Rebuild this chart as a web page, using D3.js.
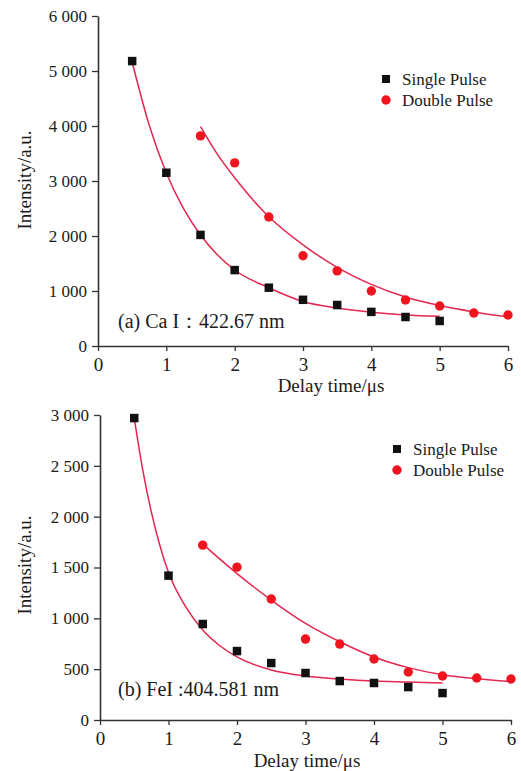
<!DOCTYPE html>
<html>
<head>
<meta charset="utf-8">
<script src="https://cdn.jsdelivr.net/npm/d3@7"></script>
<style>
  html, body { margin: 0; padding: 0; background: #ffffff; }
  svg { display: block; }
  svg text { font-family: "Liberation Serif", "Times New Roman", "DejaVu Serif", serif !important; }
</style>
</head>
<body>
<svg id="chart" width="521" height="771"></svg>
<script>
// ---------- data ----------
const xTicks = [0, 1, 2, 3, 4, 5, 6];
const xTickLabels = ["0", "1", "2", "3", "4", "5", "6"];

const yTicksA = [0, 1000, 2000, 3000, 4000, 5000, 6000];
const yTickLabelsA = ["0", "1 000", "2 000", "3 000", "4 000", "5 000", "6 000"];
const yTicksB = [0, 500, 1000, 1500, 2000, 2500, 3000];
const yTickLabelsB = ["0", "500", "1 000", "1 500", "2 000", "2 500", "3 000"];

const seriesNames = ["Single Pulse", "Double Pulse"];

const singleX = [0.5, 1, 1.5, 2, 2.5, 3, 3.5, 4, 4.5, 5];
const doubleX = [1.5, 2, 2.5, 3, 3.5, 4, 4.5, 5, 5.5, 6];

// (a) Ca I
const singleA = [5180, 3150, 2020, 1380, 1060, 840, 745, 620, 527, 455];
const doubleA = [3820, 3330, 2345, 1640, 1365, 1000, 836, 727, 600, 564];
const fitSingleAX = [0.5, 0.75, 1, 1.25, 1.5, 1.75, 2, 2.5, 3, 3.5, 4, 4.5, 5];
const fitSingleAY = [5164, 4012, 3145, 2502, 2018, 1654, 1382, 1060, 810, 690, 615, 565, 540];
const fitDoubleAX = [1.5, 1.75, 2, 2.5, 3, 3.5, 4, 4.5, 5, 5.5, 6];
const fitDoubleAY = [3987, 3480, 3060, 2351, 1840, 1430, 1120, 890, 735, 620, 530];

// (b) Fe I
const singleB = [2970, 1420, 944, 678, 560, 462, 383, 364, 324, 265];
const doubleB = [1720, 1504, 1190, 796, 747, 600, 472, 433, 413, 403];
const fitSingleBX = [0.5, 0.625, 0.75, 0.875, 1, 1.25, 1.5, 1.75, 2, 2.5, 3, 3.5, 4, 4.5, 5];
const fitSingleBY = [2970, 2455, 2045, 1714, 1450, 1115, 885, 730, 620, 492, 433, 403, 383, 374, 364];
const fitDoubleBX = [1.5, 2, 2.5, 3, 3.5, 4, 4.5, 5, 5.5, 6];
const fitDoubleBY = [1730, 1440, 1180, 950, 770, 620, 515, 445, 405, 378];

const panelLabels = ["(a) Ca I：422.67 nm", "(b) FeI :404.581 nm"];
const xTitle = "Delay time/μs";
const yTitle = "Intensity/a.u.";

// ---------- styles ----------
const axisColor = "#333333";
const textColor = "#1a1a1a";
const fitColor = "#e5264f";
const redColor = "#f0141e";
const blackColor = "#111111";

const svg = d3.select("#chart");

function zip(xs, ys) { return xs.map((x, i) => [x, ys[i]]); }

function drawPanel(cfg) {
  const x = d3.scaleLinear().domain([0, 6]).range(cfg.xRange);
  const y = d3.scaleLinear().domain(cfg.yDomain).range(cfg.yRange);
  const g = svg.append("g");

  // x axis
  const xAxis = d3.axisBottom(x)
    .tickValues(xTicks)
    .tickFormat((d, i) => xTickLabels[i])
    .tickSize(5)
    .tickSizeOuter(0);
  const gx = g.append("g")
    .attr("transform", `translate(0,${cfg.yRange[0]})`)
    .call(xAxis)
    .attr("font-family", null);
  gx.select(".domain").attr("stroke", axisColor).attr("stroke-width", 1.6);
  gx.selectAll(".tick line").attr("stroke", axisColor).attr("stroke-width", 1.3);
  gx.selectAll(".tick text")
    .attr("fill", textColor)
    .attr("font-size", 19)
    .attr("dy", null)
    .attr("y", cfg.xLabelBaseline);

  // y axis
  const yAxis = d3.axisLeft(y)
    .tickValues(cfg.yTicks)
    .tickFormat((d, i) => cfg.yTickLabels[i])
    .tickSize(6)
    .tickPadding(5)
    .tickSizeOuter(0);
  const gy = g.append("g")
    .attr("transform", `translate(${cfg.xRange[0]},0)`)
    .call(yAxis)
    .attr("font-family", null);
  gy.select(".domain").attr("stroke", axisColor).attr("stroke-width", 1.6);
  gy.selectAll(".tick line").attr("stroke", axisColor).attr("stroke-width", 1.3);
  gy.selectAll(".tick text")
    .attr("fill", textColor)
    .attr("font-size", 17);

  // fit lines
  const line = d3.line().x(d => x(d[0])).y(d => y(d[1])).curve(d3.curveMonotoneX);
  g.append("path").datum(zip(cfg.fitSX, cfg.fitSY))
    .attr("d", line).attr("fill", "none").attr("stroke", fitColor).attr("stroke-width", 1.5);
  g.append("path").datum(zip(cfg.fitDX, cfg.fitDY))
    .attr("d", line).attr("fill", "none").attr("stroke", fitColor).attr("stroke-width", 1.5);

  // points
  const sq = 8.5;
  g.selectAll("rect.single").data(zip(singleX, cfg.single)).join("rect")
    .attr("class", "single")
    .attr("x", d => x(d[0]) - sq / 2).attr("y", d => y(d[1]) - sq / 2)
    .attr("width", sq).attr("height", sq).attr("fill", blackColor);
  g.selectAll("circle.double").data(zip(doubleX, cfg.double)).join("circle")
    .attr("class", "double")
    .attr("cx", d => x(d[0])).attr("cy", d => y(d[1]))
    .attr("r", 4.7).attr("fill", redColor);

  // legend
  const lg = g.append("g").attr("transform", `translate(${cfg.legend[0]},${cfg.legend[1]})`);
  lg.append("rect").attr("x", -4).attr("y", -4).attr("width", 8).attr("height", 8).attr("fill", blackColor);
  lg.append("circle").attr("cx", 0).attr("cy", 21).attr("r", 4.7).attr("fill", redColor);
  lg.selectAll("text").data(seriesNames).join("text")
    .attr("x", 16).attr("y", (d, i) => i * 21 + 5.5)
    .attr("font-size", 17).attr("fill", textColor)
    .text(d => d);

  // panel label
  g.append("text")
    .attr("x", cfg.panelLabelPos[0]).attr("y", cfg.panelLabelPos[1])
    .attr("font-size", 20).attr("fill", textColor)
    .text(cfg.panelLabel);

  // x title
  g.append("text")
    .attr("x", cfg.xTitlePos[0]).attr("y", cfg.xTitlePos[1])
    .attr("text-anchor", "middle")
    .attr("font-size", 19).attr("fill", textColor)
    .text(xTitle);

  // y title
  g.append("text")
    .attr("transform", `translate(${cfg.yTitlePos[0]},${cfg.yTitlePos[1]}) rotate(-90)`)
    .attr("text-anchor", "middle")
    .attr("font-size", 19).attr("fill", textColor)
    .text(yTitle);
}

drawPanel({
  xRange: [98, 508], yDomain: [0, 6000], yRange: [346, 16],
  yTicks: yTicksA, yTickLabels: yTickLabelsA,
  single: singleA, double: doubleA,
  fitSX: fitSingleAX, fitSY: fitSingleAY, fitDX: fitDoubleAX, fitDY: fitDoubleAY,
  xLabelBaseline: 25,
  legend: [386, 79],
  panelLabel: panelLabels[0], panelLabelPos: [118, 328],
  xTitlePos: [331, 392],
  yTitlePos: [31, 180]
});

drawPanel({
  xRange: [100, 511], yDomain: [0, 3000], yRange: [720, 415],
  yTicks: yTicksB, yTickLabels: yTickLabelsB,
  single: singleB, double: doubleB,
  fitSX: fitSingleBX, fitSY: fitSingleBY, fitDX: fitDoubleBX, fitDY: fitDoubleBY,
  xLabelBaseline: 25,
  legend: [397, 449],
  panelLabel: panelLabels[1], panelLabelPos: [118, 696],
  xTitlePos: [307, 767],
  yTitlePos: [31, 565]
});
</script>
</body>
</html>
